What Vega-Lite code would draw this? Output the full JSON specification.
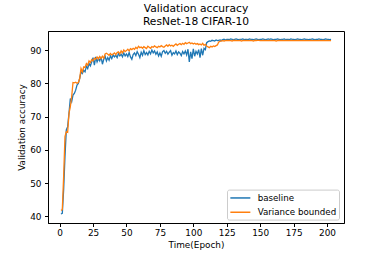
{
"$schema": "https://vega.github.io/schema/vega-lite/v6.json",
"width": 296, "height": 192,
"autosize": {"type": "none"},
"padding": {"left": 48, "top": 31, "right": 38, "bottom": 31},
"background": "white",
"title": {"text": ["Validation accuracy", "ResNet-18 CIFAR-10"], "anchor": "middle", "frame": "group", "font": "DejaVu Sans", "fontSize": 10.7, "fontWeight": "normal", "color": "black", "lineHeight": 13, "offset": 3},
"config": {
  "view": {"stroke": "black", "strokeWidth": 1},
  "axis": {"labelFont": "DejaVu Sans", "titleFont": "DejaVu Sans", "labelFontSize": 8.9, "titleFontSize": 8.9, "titleFontWeight": "normal", "labelColor": "black", "titleColor": "black", "tickColor": "black", "domainColor": "black", "tickSize": 3.5, "grid": false}
},
"data": {"values": [
{"e":1,"baseline":40.7,"Variance bounded":41.8},
{"e":2,"baseline":40.9,"Variance bounded":42.0},
{"e":3,"baseline":48.0,"Variance bounded":52.0},
{"e":4,"baseline":58.0,"Variance bounded":64.0},
{"e":5,"baseline":66.0,"Variance bounded":65.5},
{"e":6,"baseline":67.0,"Variance bounded":65.3},
{"e":7,"baseline":71.0,"Variance bounded":71.0},
{"e":8,"baseline":75.5,"Variance bounded":73.0},
{"e":9,"baseline":74.5,"Variance bounded":76.0},
{"e":10,"baseline":76.5,"Variance bounded":80.3},
{"e":11,"baseline":77.0,"Variance bounded":80.2},
{"e":12,"baseline":78.0,"Variance bounded":80.4},
{"e":13,"baseline":79.5,"Variance bounded":80.1},
{"e":14,"baseline":80.0,"Variance bounded":80.3},
{"e":15,"baseline":81.5,"Variance bounded":81.5},
{"e":16,"baseline":83.5,"Variance bounded":84.5},
{"e":17,"baseline":83.0,"Variance bounded":83.5},
{"e":18,"baseline":84.0,"Variance bounded":85.0},
{"e":19,"baseline":83.5,"Variance bounded":84.8},
{"e":20,"baseline":85.2,"Variance bounded":86.0},
{"e":21,"baseline":84.5,"Variance bounded":85.5},
{"e":22,"baseline":86.0,"Variance bounded":86.8},
{"e":23,"baseline":85.3,"Variance bounded":86.3},
{"e":24,"baseline":86.5,"Variance bounded":87.2},
{"e":25,"baseline":87.8,"Variance bounded":86.8},
{"e":26,"baseline":85.5,"Variance bounded":87.6},
{"e":27,"baseline":88.0,"Variance bounded":87.3},
{"e":28,"baseline":86.5,"Variance bounded":88.0},
{"e":29,"baseline":87.5,"Variance bounded":87.4},
{"e":30,"baseline":86.8,"Variance bounded":88.1},
{"e":31,"baseline":88.0,"Variance bounded":87.5},
{"e":32,"baseline":85.8,"Variance bounded":88.2},
{"e":33,"baseline":87.3,"Variance bounded":87.6},
{"e":34,"baseline":88.2,"Variance bounded":88.9},
{"e":35,"baseline":86.8,"Variance bounded":89.1},
{"e":36,"baseline":87.8,"Variance bounded":88.8},
{"e":37,"baseline":87.0,"Variance bounded":88.5},
{"e":38,"baseline":88.3,"Variance bounded":89.0},
{"e":39,"baseline":87.5,"Variance bounded":88.6},
{"e":40,"baseline":88.6,"Variance bounded":88.9},
{"e":41,"baseline":88.0,"Variance bounded":89.2},
{"e":42,"baseline":88.5,"Variance bounded":88.7},
{"e":43,"baseline":87.8,"Variance bounded":89.3},
{"e":44,"baseline":89.0,"Variance bounded":89.5},
{"e":45,"baseline":88.3,"Variance bounded":88.9},
{"e":46,"baseline":88.8,"Variance bounded":89.8},
{"e":47,"baseline":88.0,"Variance bounded":89.2},
{"e":48,"baseline":89.2,"Variance bounded":90.1},
{"e":49,"baseline":88.3,"Variance bounded":89.6},
{"e":50,"baseline":88.9,"Variance bounded":89.9},
{"e":51,"baseline":88.1,"Variance bounded":90.3},
{"e":52,"baseline":89.3,"Variance bounded":89.8},
{"e":53,"baseline":88.0,"Variance bounded":90.5},
{"e":54,"baseline":87.3,"Variance bounded":90.2},
{"e":55,"baseline":88.7,"Variance bounded":90.6},
{"e":56,"baseline":89.2,"Variance bounded":90.3},
{"e":57,"baseline":88.4,"Variance bounded":90.9},
{"e":58,"baseline":89.6,"Variance bounded":90.5},
{"e":59,"baseline":88.8,"Variance bounded":91.2},
{"e":60,"baseline":87.8,"Variance bounded":90.8},
{"e":61,"baseline":89.4,"Variance bounded":91.0},
{"e":62,"baseline":88.5,"Variance bounded":90.6},
{"e":63,"baseline":89.9,"Variance bounded":91.1},
{"e":64,"baseline":88.7,"Variance bounded":90.8},
{"e":65,"baseline":89.3,"Variance bounded":90.5},
{"e":66,"baseline":88.6,"Variance bounded":91.2},
{"e":67,"baseline":89.7,"Variance bounded":90.9},
{"e":68,"baseline":88.9,"Variance bounded":90.6},
{"e":69,"baseline":90.1,"Variance bounded":91.1},
{"e":70,"baseline":89.2,"Variance bounded":90.9},
{"e":71,"baseline":89.8,"Variance bounded":91.3},
{"e":72,"baseline":88.8,"Variance bounded":91.0},
{"e":73,"baseline":89.5,"Variance bounded":90.8},
{"e":74,"baseline":88.3,"Variance bounded":91.2},
{"e":75,"baseline":89.2,"Variance bounded":91.0},
{"e":76,"baseline":88.2,"Variance bounded":91.4},
{"e":77,"baseline":89.6,"Variance bounded":91.1},
{"e":78,"baseline":89.9,"Variance bounded":90.9},
{"e":79,"baseline":89.1,"Variance bounded":91.3},
{"e":80,"baseline":89.7,"Variance bounded":91.6},
{"e":81,"baseline":88.8,"Variance bounded":91.2},
{"e":82,"baseline":89.4,"Variance bounded":91.7},
{"e":83,"baseline":89.9,"Variance bounded":91.3},
{"e":84,"baseline":88.5,"Variance bounded":91.5},
{"e":85,"baseline":89.3,"Variance bounded":91.2},
{"e":86,"baseline":88.9,"Variance bounded":91.6},
{"e":87,"baseline":89.8,"Variance bounded":91.9},
{"e":88,"baseline":88.7,"Variance bounded":91.5},
{"e":89,"baseline":89.5,"Variance bounded":91.8},
{"e":90,"baseline":89.1,"Variance bounded":92.0},
{"e":91,"baseline":88.4,"Variance bounded":91.7},
{"e":92,"baseline":89.6,"Variance bounded":92.1},
{"e":93,"baseline":88.9,"Variance bounded":91.8},
{"e":94,"baseline":89.8,"Variance bounded":92.3},
{"e":95,"baseline":88.6,"Variance bounded":92.0},
{"e":96,"baseline":90.3,"Variance bounded":92.2},
{"e":97,"baseline":86.5,"Variance bounded":92.4},
{"e":98,"baseline":89.5,"Variance bounded":92.0},
{"e":99,"baseline":87.5,"Variance bounded":92.2},
{"e":100,"baseline":90.4,"Variance bounded":91.9},
{"e":101,"baseline":88.2,"Variance bounded":92.1},
{"e":102,"baseline":89.7,"Variance bounded":91.8},
{"e":103,"baseline":88.9,"Variance bounded":92.0},
{"e":104,"baseline":90.2,"Variance bounded":91.7},
{"e":105,"baseline":87.8,"Variance bounded":91.9},
{"e":106,"baseline":90.5,"Variance bounded":91.6},
{"e":107,"baseline":88.5,"Variance bounded":92.1},
{"e":108,"baseline":90.6,"Variance bounded":91.5},
{"e":109,"baseline":90.2,"Variance bounded":91.8},
{"e":110,"baseline":92.3,"Variance bounded":91.3},
{"e":111,"baseline":92.6,"Variance bounded":91.0},
{"e":112,"baseline":92.8,"Variance bounded":90.8},
{"e":113,"baseline":92.7,"Variance bounded":91.2},
{"e":114,"baseline":93.0,"Variance bounded":91.0},
{"e":115,"baseline":92.9,"Variance bounded":91.3},
{"e":116,"baseline":92.8,"Variance bounded":91.1},
{"e":117,"baseline":93.1,"Variance bounded":91.4},
{"e":118,"baseline":92.9,"Variance bounded":91.6},
{"e":119,"baseline":93.0,"Variance bounded":92.5},
{"e":120,"baseline":93.1,"Variance bounded":92.7},
{"e":121,"baseline":92.9,"Variance bounded":92.8},
{"e":122,"baseline":93.2,"Variance bounded":92.9},
{"e":123,"baseline":93.3,"Variance bounded":92.8},
{"e":124,"baseline":93.1,"Variance bounded":92.9},
{"e":125,"baseline":93.3,"Variance bounded":93.0},
{"e":126,"baseline":93.3,"Variance bounded":92.9},
{"e":127,"baseline":93.2,"Variance bounded":93.0},
{"e":128,"baseline":93.4,"Variance bounded":92.9},
{"e":129,"baseline":93.3,"Variance bounded":92.8},
{"e":130,"baseline":93.2,"Variance bounded":93.0},
{"e":131,"baseline":93.3,"Variance bounded":92.9},
{"e":132,"baseline":93.4,"Variance bounded":93.0},
{"e":133,"baseline":93.3,"Variance bounded":92.9},
{"e":134,"baseline":93.2,"Variance bounded":92.9},
{"e":135,"baseline":93.3,"Variance bounded":93.0},
{"e":136,"baseline":93.3,"Variance bounded":92.8},
{"e":137,"baseline":93.4,"Variance bounded":92.9},
{"e":138,"baseline":93.2,"Variance bounded":93.0},
{"e":139,"baseline":93.3,"Variance bounded":92.9},
{"e":140,"baseline":93.3,"Variance bounded":93.0},
{"e":141,"baseline":93.2,"Variance bounded":92.9},
{"e":142,"baseline":93.4,"Variance bounded":92.9},
{"e":143,"baseline":93.3,"Variance bounded":93.0},
{"e":144,"baseline":93.3,"Variance bounded":92.9},
{"e":145,"baseline":93.2,"Variance bounded":92.8},
{"e":146,"baseline":93.3,"Variance bounded":93.0},
{"e":147,"baseline":93.4,"Variance bounded":92.9},
{"e":148,"baseline":93.3,"Variance bounded":93.0},
{"e":149,"baseline":93.2,"Variance bounded":93.0},
{"e":150,"baseline":93.3,"Variance bounded":92.9},
{"e":151,"baseline":93.3,"Variance bounded":92.9},
{"e":152,"baseline":93.4,"Variance bounded":93.0},
{"e":153,"baseline":93.3,"Variance bounded":92.9},
{"e":154,"baseline":93.2,"Variance bounded":93.0},
{"e":155,"baseline":93.3,"Variance bounded":92.9},
{"e":156,"baseline":93.4,"Variance bounded":92.9},
{"e":157,"baseline":93.3,"Variance bounded":93.0},
{"e":158,"baseline":93.4,"Variance bounded":92.9},
{"e":159,"baseline":93.3,"Variance bounded":92.9},
{"e":160,"baseline":93.2,"Variance bounded":93.0},
{"e":161,"baseline":93.3,"Variance bounded":92.9},
{"e":162,"baseline":93.3,"Variance bounded":92.8},
{"e":163,"baseline":93.4,"Variance bounded":92.9},
{"e":164,"baseline":93.3,"Variance bounded":93.0},
{"e":165,"baseline":93.2,"Variance bounded":92.9},
{"e":166,"baseline":93.3,"Variance bounded":93.0},
{"e":167,"baseline":93.3,"Variance bounded":92.9},
{"e":168,"baseline":93.4,"Variance bounded":92.9},
{"e":169,"baseline":93.2,"Variance bounded":93.0},
{"e":170,"baseline":93.3,"Variance bounded":92.9},
{"e":171,"baseline":93.3,"Variance bounded":93.0},
{"e":172,"baseline":93.2,"Variance bounded":92.9},
{"e":173,"baseline":93.4,"Variance bounded":92.9},
{"e":174,"baseline":93.3,"Variance bounded":93.0},
{"e":175,"baseline":93.3,"Variance bounded":92.9},
{"e":176,"baseline":93.2,"Variance bounded":92.9},
{"e":177,"baseline":93.3,"Variance bounded":93.0},
{"e":178,"baseline":93.4,"Variance bounded":92.9},
{"e":179,"baseline":93.3,"Variance bounded":93.0},
{"e":180,"baseline":93.3,"Variance bounded":92.9},
{"e":181,"baseline":93.2,"Variance bounded":92.9},
{"e":182,"baseline":93.3,"Variance bounded":93.0},
{"e":183,"baseline":93.4,"Variance bounded":92.9},
{"e":184,"baseline":93.3,"Variance bounded":92.9},
{"e":185,"baseline":93.3,"Variance bounded":93.0},
{"e":186,"baseline":93.2,"Variance bounded":92.9},
{"e":187,"baseline":93.3,"Variance bounded":92.9},
{"e":188,"baseline":93.3,"Variance bounded":93.0},
{"e":189,"baseline":93.4,"Variance bounded":92.9},
{"e":190,"baseline":93.3,"Variance bounded":92.9},
{"e":191,"baseline":93.2,"Variance bounded":93.0},
{"e":192,"baseline":93.3,"Variance bounded":92.9},
{"e":193,"baseline":93.3,"Variance bounded":92.9},
{"e":194,"baseline":93.4,"Variance bounded":93.0},
{"e":195,"baseline":93.3,"Variance bounded":92.9},
{"e":196,"baseline":93.3,"Variance bounded":92.9},
{"e":197,"baseline":93.2,"Variance bounded":93.0},
{"e":198,"baseline":93.3,"Variance bounded":92.9},
{"e":199,"baseline":93.4,"Variance bounded":92.9},
{"e":200,"baseline":93.3,"Variance bounded":93.0},
{"e":201,"baseline":93.3,"Variance bounded":92.9},
{"e":202,"baseline":93.2,"Variance bounded":92.9},
{"e":203,"baseline":93.3,"Variance bounded":92.9}
]},
"transform": [{"fold": ["baseline", "Variance bounded"], "as": ["series", "acc"]}],
"encoding": {
  "x": {"field": "e", "type": "quantitative", "scale": {"domain": [-8.7, 212.7], "nice": false, "zero": false},
        "axis": {"values": [0, 25, 50, 75, 100, 125, 150, 175, 200], "title": "Time(Epoch)", "labelPadding": 1.5, "titlePadding": 4}},
  "y": {"field": "acc", "type": "quantitative", "scale": {"domain": [38, 95.8], "nice": false, "zero": false},
        "axis": {"values": [40, 50, 60, 70, 80, 90], "title": "Validation accuracy", "labelPadding": 3.5, "titlePadding": 3}},
  "color": {"field": "series", "type": "nominal", "scale": {"domain": ["baseline", "Variance bounded"], "range": ["#1f77b4", "#ff7f0e"]},
        "legend": {"title": null, "orient": "none", "legendX": 179, "legendY": 158.6, "symbolType": "M-1,0H3", "symbolSize": 100, "symbolStrokeWidth": 1.5, "labelOffset": 16.3, "labelFont": "DejaVu Sans", "labelFontSize": 8.7, "labelColor": "black", "padding": 2.35, "rowPadding": 3.3, "strokeColor": "#cccccc", "fillColor": "white", "cornerRadius": 2}}
},
"layer": [
  {"transform": [{"filter": "datum.series === 'baseline'"}], "mark": {"type": "line", "strokeWidth": 1.3}},
  {"transform": [{"filter": "datum.series === 'Variance bounded'"}], "mark": {"type": "line", "strokeWidth": 1.3}}
]
}
